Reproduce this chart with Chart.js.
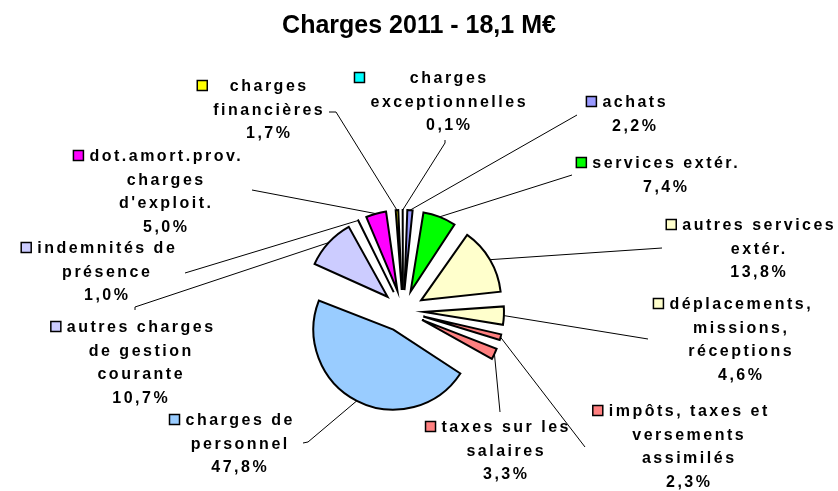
<!DOCTYPE html>
<html>
<head>
<meta charset="utf-8">
<script src="https://cdn.jsdelivr.net/npm/chart.js@4.4.1/dist/chart.umd.min.js"></script>
<style>
  html, body { margin: 0; padding: 0; background: #fff; }
  canvas { display: block; }
</style>
</head>
<body>
<canvas id="chart" width="838" height="491"></canvas>
<script>
// ---- data (clockwise from 12 o'clock) ----
const TITLE = 'Charges 2011 - 18,1 M€';

const categories = [
  'achats',
  'services extér.',
  'autres services extér.',
  'déplacements, missions, réceptions',
  'impôts, taxes et versements assimilés',
  'taxes sur les salaires',
  'charges de personnel',
  'autres charges de gestion courante',
  'indemnités de présence',
  "dot.amort.prov. charges d'exploit.",
  'charges financières',
  'charges exceptionnelles',
];

// how each category name is broken over lines in the labels
const labelLines = [
  ['achats'],
  ['services extér.'],
  ['autres services', 'extér.'],
  ['déplacements,', 'missions,', 'réceptions'],
  ['impôts, taxes et', 'versements', 'assimilés'],
  ['taxes sur les', 'salaires'],
  ['charges de', 'personnel'],
  ['autres charges', 'de gestion', 'courante'],
  ['indemnités de', 'présence'],
  ['dot.amort.prov.', 'charges', "d'exploit."],
  ['charges', 'financières'],
  ['charges', 'exceptionnelles'],
];

const values = [2.2, 7.4, 13.8, 4.6, 2.3, 3.3, 47.8, 10.7, 1.0, 5.0, 1.7, 0.1];

const colors = [
  '#9999FF', '#00FF00', '#FFFFCC', '#FFFFCC', '#FF8080', '#FF8080',
  '#99CCFF', '#CCCCFF', '#CCCCFF', '#FF00FF', '#FFFF00', '#00FFFF',
];

// ---- layout ----
const R = 80;            // pie radius, px
const EXPLODE = 84;      // Chart.js moves each arc by offset / 4
const FONT = '"Liberation Sans", Arial, sans-serif';
const LINE_H = 23.5;
const SPACING = 2.5;

// label blocks: centre x, first baseline y, leader start points
const labelPos = [
  { x: 634, y: 107, lead: [[577, 115]] },
  { x: 665, y: 168, lead: [[572, 175]] },
  { x: 758, y: 230, lead: [[662, 248]] },
  { x: 740, y: 309, lead: [[648, 339]] },
  { x: 688, y: 416, lead: [[585, 447]] },
  { x: 505, y: 432, lead: [[500, 412]] },
  { x: 239, y: 425, lead: [[303, 443], [308, 442]] },
  { x: 140, y: 332, lead: [[135, 310], [135, 307]] },
  { x: 106, y: 253, lead: [[185, 273]] },
  { x: 165, y: 161, lead: [[252, 190]] },
  { x: 268, y: 91,  lead: [[329, 112], [336, 112]] },
  { x: 448, y: 83,  lead: [[445, 140], [445, 143]] },
];

function pct(v) {
  return v.toFixed(1).replace('.', ',') + '%';
}

// keep every exploded slice at the same radius
const radiusFix = {
  id: 'radiusFix',
  beforeDatasetsDraw(chart) {
    for (const arc of chart.getDatasetMeta(0).data) {
      const shift = (arc.options.offset || 0) / 4;
      const fix = 1 - Math.sin(Math.min(Math.PI, arc.circumference || 0));
      arc.outerRadius = R - shift * fix;
    }
  },
};

const outsideLabels = {
  id: 'outsideLabels',
  afterDraw(chart) {
    const ctx = chart.ctx;
    ctx.save();

    // title
    ctx.fillStyle = '#000';
    ctx.font = `bold 25px ${FONT}`;
    ctx.textAlign = 'center';
    ctx.textBaseline = 'alphabetic';
    if ('letterSpacing' in ctx) ctx.letterSpacing = '0px';
    ctx.fillText(TITLE, 419, 33);

    const arcs = chart.getDatasetMeta(0).data;
    arcs.forEach((arc, i) => {
      const pos = labelPos[i];
      const mid = (arc.startAngle + arc.endAngle) / 2;
      const shift = (arc.options.offset || 0) / 4;
      const ex = arc.x + Math.cos(mid) * (shift + R);
      const ey = arc.y + Math.sin(mid) * (shift + R);

      // leader line
      ctx.strokeStyle = '#000';
      ctx.lineWidth = 1;
      ctx.beginPath();
      ctx.moveTo(pos.lead[0][0], pos.lead[0][1]);
      for (const p of pos.lead.slice(1)) ctx.lineTo(p[0], p[1]);
      ctx.lineTo(ex, ey);
      ctx.stroke();

      // text
      const lines = labelLines[i].concat([pct(values[i])]);
      ctx.font = `bold 16px ${FONT}`;
      ctx.textAlign = 'left';
      if ('letterSpacing' in ctx) ctx.letterSpacing = SPACING + 'px';
      const widths = lines.map(t => ctx.measureText(t).width - SPACING);
      const widest = Math.max(...widths);
      lines.forEach((t, k) => {
        ctx.fillText(t, pos.x - widths[k] / 2, pos.y + k * LINE_H);
      });

      // legend key
      const kx = pos.x - widest / 2 - 6 - 10;
      const ky = pos.y - 10.5;
      ctx.fillStyle = colors[i];
      ctx.fillRect(kx, ky, 10, 10);
      ctx.lineWidth = 1.5;
      ctx.strokeRect(kx, ky, 10, 10);
      ctx.fillStyle = '#000';
    });

    ctx.restore();
  },
};

new Chart(document.getElementById('chart'), {
  type: 'pie',
  data: {
    labels: categories,
    datasets: [{
      data: values,
      backgroundColor: colors,
      borderColor: '#000',
      borderWidth: 2,
      borderJoinStyle: 'miter',
      offset: EXPLODE,
    }],
  },
  options: {
    responsive: false,
    animation: false,
    devicePixelRatio: 1,
    events: [],
    radius: R,
    layout: { padding: { top: 131, bottom: 0, left: 0, right: 32 } },
    plugins: {
      legend: { display: false },
      title: { display: false },
      tooltip: { enabled: false },
    },
  },
  plugins: [radiusFix, outsideLabels],
});
</script>
</body>
</html>
